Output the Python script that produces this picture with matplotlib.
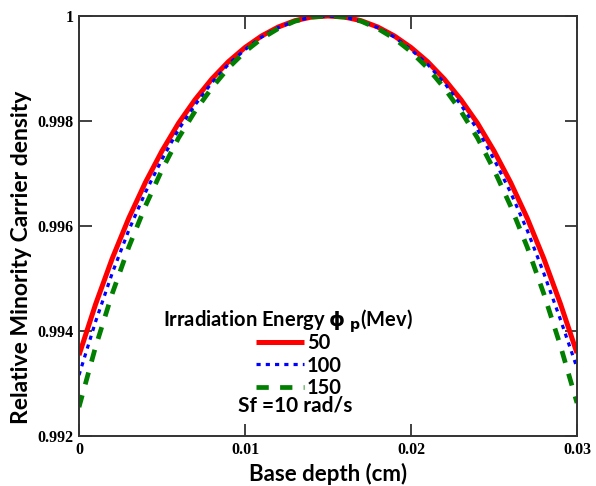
import matplotlib
matplotlib.use("Agg")
import matplotlib.pyplot as plt

# Base depth (cm)
depth = [0.000, 0.001, 0.002, 0.003, 0.004, 0.005, 0.006, 0.007, 0.008, 0.009,
         0.010, 0.011, 0.012, 0.013, 0.014, 0.015, 0.016, 0.017, 0.018, 0.019,
         0.020, 0.021, 0.022, 0.023, 0.024, 0.025, 0.026, 0.027, 0.028, 0.029, 0.030]

# Relative minority carrier density, phi_p = 50 MeV
rho_50 = [0.99354, 0.99451, 0.99538, 0.99615, 0.99683, 0.99743, 0.99796, 0.99841,
          0.99880, 0.99913, 0.99940, 0.99962, 0.99979, 0.99991, 0.99998, 1.00000,
          0.99998, 0.99991, 0.99979, 0.99962, 0.99940, 0.99913, 0.99880, 0.99841,
          0.99796, 0.99743, 0.99683, 0.99615, 0.99538, 0.99452, 0.99358]
# phi_p = 100 MeV
rho_100 = [0.99316, 0.99418, 0.99510, 0.99592, 0.99664, 0.99727, 0.99784, 0.99831,
           0.99873, 0.99908, 0.99936, 0.99960, 0.99978, 0.99990, 0.99998, 1.00000,
           0.99998, 0.99990, 0.99978, 0.99960, 0.99936, 0.99908, 0.99873, 0.99831,
           0.99784, 0.99727, 0.99664, 0.99592, 0.99510, 0.99422, 0.99330]
# phi_p = 150 MeV
rho_150 = [0.99255, 0.99370, 0.99471, 0.99560, 0.99638, 0.99707, 0.99768, 0.99819,
           0.99863, 0.99901, 0.99932, 0.99957, 0.99976, 0.99990, 0.99998, 1.00000,
           0.99998, 0.99990, 0.99976, 0.99957, 0.99932, 0.99901, 0.99863, 0.99819,
           0.99768, 0.99707, 0.99638, 0.99560, 0.99471, 0.99372, 0.99263]

series_labels = ["50", "100", "150"]
x_ticks = [0, 0.01, 0.02, 0.03]
x_ticklabels = ["0", "0.01", "0.02", "0.03"]
y_ticks = [0.992, 0.994, 0.996, 0.998, 1.0]
y_ticklabels = ["0.992", "0.994", "0.996", "0.998", "1"]

fig = plt.figure(figsize=(5.96, 4.86), dpi=100)
ax = fig.add_axes([79/596, 1-436/486, (577-79)/596, (436-16)/486])

l1, = ax.plot(depth, rho_50, color="#ff0000", lw=3.6, solid_capstyle="butt",
              solid_joinstyle="round")
l2, = ax.plot(depth, rho_100, color="#0000ff", lw=2.3, linestyle=(0, (1.3, 1.6)))
l3, = ax.plot(depth, rho_150, color="#007f00", lw=3.4, linestyle=(0, (2.6, 2.4)))

ax.set_xlim(0, 0.03)
ax.set_ylim(0.992, 1.0)
ax.set_xticks(x_ticks)
ax.set_xticklabels(x_ticklabels)
ax.set_yticks(y_ticks)
ax.set_yticklabels(y_ticklabels)
ax.tick_params(direction="in", length=9, width=1.3, color="#333333",
               top=True, right=True, labelsize=11.5, pad=4)
for lab in ax.get_xticklabels() + ax.get_yticklabels():
    lab.set_fontfamily("Liberation Serif")
    lab.set_fontweight("bold")
for s in ax.spines.values():
    s.set_linewidth(1.4)
    s.set_color("#333333")

ax.set_xlabel("Base depth (cm)", fontfamily="Lato", fontweight="bold",
              fontsize=16, labelpad=4)
ax.set_ylabel("Relative Minority Carrier density", fontfamily="Lato",
              fontweight="bold", fontsize=16.5)
ax.yaxis.set_label_coords(-0.094, 0.426)

ax.text(0.169, 0.26, r"Irradiation Energy $\mathbf{\phi}$ $_{\mathbf{p}}$(Mev)",
        transform=ax.transAxes, fontfamily="Lato", fontweight="bold",
        fontsize=14.5, va="baseline", ha="left")
leg = ax.legend([l1, l2, l3], series_labels, loc="upper left",
                bbox_to_anchor=(0.355, 0.245), frameon=False,
                handlelength=2.4, handletextpad=0.15, labelspacing=0.12,
                borderaxespad=0, borderpad=0,
                prop={"family": "Lato", "weight": "bold", "size": 14.5})
ax.text(0.319, 0.058, "Sf =10 rad/s", transform=ax.transAxes,
        fontfamily="Lato", fontweight="bold", fontsize=15,
        va="baseline", ha="left")

fig.savefig("out.png", dpi=100)
